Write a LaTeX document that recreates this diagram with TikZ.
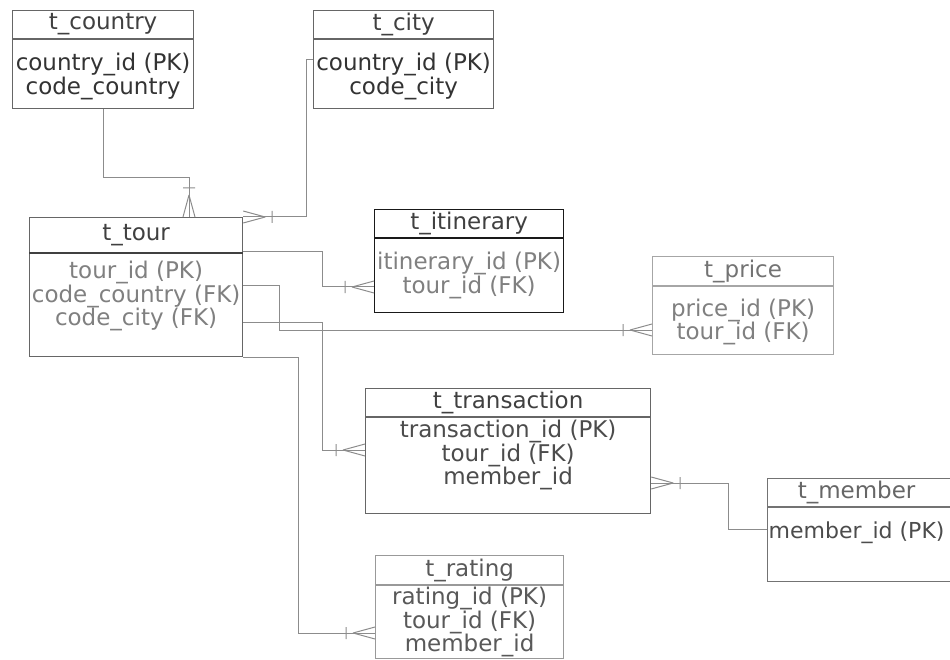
\documentclass[tikz,border=0pt]{standalone}
\usepackage{fontspec}
\setmainfont{DejaVu Sans}
\usetikzlibrary{decorations.markings}

\begin{document}
\begin{tikzpicture}
        [x = 1pt, y = -1pt, font = \fontsize{23}{22}\selectfont,
        tbl/.style = {rectangle, draw=black!60, line width=1.2pt, anchor=north west, inner sep=0pt},
        sep/.style = {draw=black!60, line width=1.2pt},
        ttl/.style = {text=black!75, inner sep=0pt},
        attr/.style = {align=center, text=black!80, inner sep=0pt},
        conn/.style = {color=black!45, line width=1pt},
        manyend/.style = {decoration={markings, mark=at position 1 with
            {\draw (-22,0) -- (0,6) (-22,0) -- (0,-6) (-29,-6) -- (-29,6);}},
            postaction={decorate}}]

        \path[use as bounding box, fill=white] (0,0) rectangle (950,660);

        %% place tables on canvas
        \node[tbl, minimum width=181, minimum height=98] (country) at (12,10) {};
        \draw[sep] ([yshift=-29]country.north west) -- ([yshift=-29]country.north east);
        \node[ttl] (countryT) at ([yshift=-14.5]country.north) {t\_country};
        \node[attr] (countryA) at ([yshift=-66.5]country.north) {country\_id (PK)\\code\_country};

        \node[tbl, minimum width=180, minimum height=98] (city) at (313,10) {};
        \draw[sep] ([yshift=-29]city.north west) -- ([yshift=-29]city.north east);
        \node[ttl] (cityT) at ([yshift=-14.5]city.north) {t\_city};
        \node[attr] (cityA) at ([yshift=-66.5]city.north) {country\_id (PK)\\code\_city};

        \node[tbl, minimum width=213, minimum height=139] (tour) at (29,217) {};
        \draw[sep, draw=black!75] ([yshift=-36]tour.north west) -- ([yshift=-36]tour.north east);
        \node[ttl] (tourT) at ([yshift=-18]tour.north) {t\_tour};
        \node[attr, text=black!50] (tourA) at ([yshift=-79]tour.north) {tour\_id (PK)\\code\_country (FK)\\code\_city (FK)};

        \node[tbl, draw=black!90, minimum width=189, minimum height=103] (itin) at (374,209) {};
        \draw[sep, draw=black!90] ([yshift=-29]itin.north west) -- ([yshift=-29]itin.north east);
        \node[ttl] (itinT) at ([yshift=-14.5]itin.north) {t\_itinerary};
        \node[attr, text=black!50] (itinA) at ([yshift=-66.5]itin.north) {itinerary\_id (PK)\\tour\_id (FK)};

        \node[tbl, draw=black!35, minimum width=181, minimum height=98] (price) at (652,256) {};
        \draw[sep, draw=black!35] ([yshift=-30]price.north west) -- ([yshift=-30]price.north east);
        \node[ttl, text=black!55] (priceT) at ([yshift=-15]price.north) {t\_price};
        \node[attr, text=black!50] (priceA) at ([yshift=-66]price.north) {price\_id (PK)\\tour\_id (FK)};

        \node[tbl, minimum width=285, minimum height=125] (trans) at (365,388) {};
        \draw[sep] ([yshift=-29]trans.north west) -- ([yshift=-29]trans.north east);
        \node[ttl] (transT) at ([yshift=-14.5]trans.north) {t\_transaction};
        \node[attr, text=black!70] (transA) at ([yshift=-67]trans.north) {transaction\_id (PK)\\tour\_id (FK)\\member\_id};

        \node[tbl, draw=black!55, minimum width=186, minimum height=103] (member) at (767,478) {};
        \draw[sep, draw=black!55] ([yshift=-29]member.north west) -- ([yshift=-29]member.north east);
        \node[ttl, text=black!60] (memberT) at ([xshift=-4, yshift=-14.5]member.north) {t\_member};
        \node[attr, text=black!70, font=\fontsize{22}{22}\selectfont] (memberA) at ([xshift=-4, yshift=-55]member.north) {member\_id (PK)};

        \node[tbl, draw=black!40, minimum width=188, minimum height=103] (rating) at (375,555) {};
        \draw[sep, draw=black!40] ([yshift=-30]rating.north west) -- ([yshift=-30]rating.north east);
        \node[ttl, text=black!65] (ratingT) at ([yshift=-15]rating.north) {t\_rating};
        \node[attr, text=black!65] (ratingA) at ([yshift=-67]rating.north) {rating\_id (PK)\\tour\_id (FK)\\member\_id};

        %% connect tables
        \draw[conn, manyend] (country.south) -- ++(0,68) -| ([xshift=160]tour.north west);
        \draw[conn, manyend] (city.west) -- ++(-7,0) |- (tour.north east);
        \draw[conn, manyend] ([yshift=-35]tour.north east) -- ++(79,0) |- ([yshift=-78]itin.north west);
        \draw[conn, manyend] ([yshift=-69]tour.north east) -- ++(36,0) |- ([yshift=-74]price.north west);
        \draw[conn, manyend] ([yshift=-105]tour.north east) -- ++(79,0) |- ([yshift=-62]trans.north west);
        \draw[conn, manyend] (tour.south east) -- ++(55,0) |- ([yshift=-78]rating.north west);
        \draw[conn, manyend] ([yshift=-51]member.north west) -- ++(-39,0) |- ([yshift=-95]trans.north east);
    \end{tikzpicture}
\end{document}
